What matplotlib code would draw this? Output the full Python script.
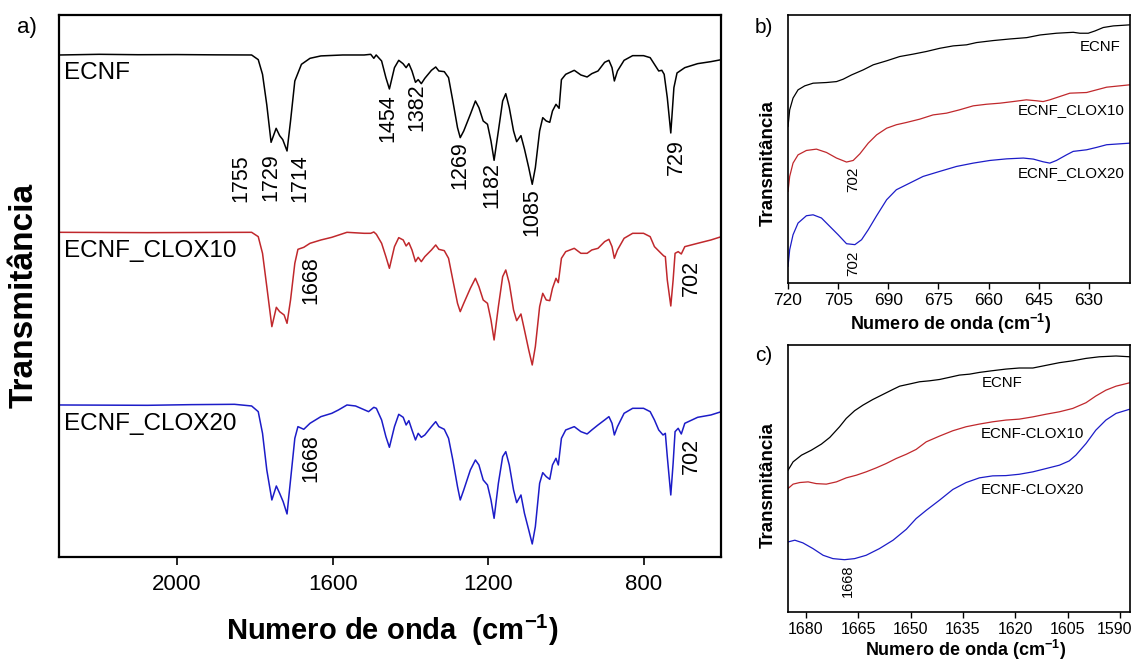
import matplotlib.pyplot as plt
import matplotlib.transforms as mtransforms

plt.rcParams['font.family'] = ['Liberation Sans', 'DejaVu Sans']
plt.rcParams['mathtext.fontset'] = 'custom'
plt.rcParams['mathtext.rm'] = 'Liberation Sans'
plt.rcParams['mathtext.bf'] = 'Liberation Sans:bold'

# ---- panel a) full FTIR spectra (wavenumber in cm-1, transmittance a.u.) ----
ecnf_wn = [2300, 2200, 2100, 2000, 1900, 1808, 1791, 1780, 1769, 1758, 1745, 1736, 1728, 1717, 1708,
           1697, 1680, 1658, 1630, 1574, 1519, 1502, 1494, 1488, 1474, 1463, 1454, 1441, 1430, 1419,
           1411, 1404, 1396, 1387, 1380, 1372, 1363, 1346, 1335, 1327, 1313, 1302, 1291, 1279, 1272,
           1263, 1246, 1233, 1224, 1213, 1202, 1193, 1185, 1174, 1163, 1155, 1146, 1135, 1127, 1116,
           1107, 1096, 1087, 1079, 1068, 1060, 1051, 1042, 1035, 1026, 1018, 1012, 1001, 979, 962,
           946, 934, 918, 901, 890, 882, 876, 868, 851, 829, 801, 784, 773, 762, 754, 748, 740, 731,
           723, 715, 695, 662, 628, 601]
ecnf_t = [99.5, 100, 99.7, 99.8, 99.6, 99.5, 96, 85, 62, 34, 44.5, 39, 36, 27.5, 50,
          80, 92.5, 97, 98.8, 99.5, 99.5, 100, 97, 99.5, 95, 82.5, 74, 90, 95.5, 93,
          90, 93, 87.5, 79, 81, 78, 82, 88, 90.5, 87.5, 87, 82.5, 65, 45, 37.5,
          42.5, 55, 65, 60, 50, 47.5, 35, 20.5, 42.5, 65, 70.5, 60, 42.5, 34.5, 39,
          29, 15, 2.5, 15, 42.5, 52.5, 50, 49, 57.5, 62.5, 59.5, 81, 85, 88, 84.5,
          83, 85.5, 87.5, 94, 95.5, 90, 80, 87.5, 95.5, 99, 99, 97.5, 92.5, 87.5, 88, 85, 67.5, 41,
          75, 86, 90, 93, 94.5, 96]

clox10_wn = [2300, 2075, 1808, 1791, 1780, 1769, 1756, 1744.5, 1736, 1724.5, 1717, 1708, 1697, 1689,
             1674, 1658, 1630, 1602, 1563, 1519, 1502, 1494, 1487.5, 1474, 1463, 1454, 1441, 1430,
             1418.5, 1411, 1404, 1396, 1387, 1380, 1372, 1363, 1346, 1335, 1327, 1313, 1302, 1291,
             1279, 1272, 1263, 1246, 1233, 1224, 1213, 1202, 1193, 1185, 1174, 1163, 1155, 1146,
             1135, 1127, 1116, 1107, 1096, 1087, 1079, 1068, 1060, 1051, 1042, 1035, 1026, 1020,
             1012, 1001, 979, 962, 946, 934, 918, 901, 890, 882, 876, 868, 851, 829, 801, 784, 773,
             756, 749, 745, 740, 731, 725, 720, 712, 704, 695, 662, 628, 601]
clox10_t = [100, 99.75, 100, 96.75, 84.25, 59.25, 29.25, 43.75, 40.5, 38, 31.75, 49.25, 76.75, 87.25,
            88.75, 91.75, 94.25, 96.25, 100, 99.25, 99.25, 100.25, 98.5, 91.75, 81.75, 73, 89.25, 96,
            94.25, 89.75, 92.25, 86.75, 78, 81.25, 78, 81.75, 86.75, 90.5, 87.25, 86.25, 80.5, 64.25,
            46.75, 40.5, 46.75, 58, 65.5, 59.25, 49.25, 46.75, 34.25, 19.25, 44.25, 66.75, 71.75, 61.75,
            41.75, 33.75, 38.75, 26.75, 11.75, 0.5, 14.25, 44.25, 54.25, 49.25, 48.75, 58, 65.5, 62.25,
            80.5, 85.5, 88, 84.25, 84.25, 86.75, 88, 93, 94.75, 89.25, 80.5, 86.75, 95.5, 99.25, 99.25,
            96.75, 89.25, 84.25, 82.25, 81.75, 64.25, 44.75, 64.25, 84.25, 85.5, 83.75, 89.25, 91.75,
            94.25, 96.75]

clox20_wn = [2300, 2075, 1964, 1852, 1808, 1791, 1780, 1769, 1756, 1744.5, 1736, 1727, 1717, 1708,
             1697, 1689, 1674, 1658, 1630, 1602, 1585, 1563, 1541, 1507.5, 1494, 1487.5, 1474, 1463,
             1454, 1441, 1430, 1418.5, 1411, 1404, 1396, 1387, 1380, 1372, 1363, 1346, 1335, 1327,
             1313, 1302, 1291, 1279, 1272, 1263, 1246, 1233, 1224, 1213, 1202, 1193, 1185, 1174,
             1163, 1155, 1146, 1135, 1127, 1116, 1107, 1096, 1087, 1079, 1068, 1060, 1051, 1042,
             1035, 1026, 1020, 1012, 1001, 979, 962, 946, 934, 918, 901, 890, 882, 876, 868, 851,
             829, 801, 784, 773, 762, 751, 745, 740, 731, 725, 720, 712, 704, 695, 662, 628, 601]
clox20_t = [100, 99.75, 100.25, 100.5, 99.25, 95, 78.75, 51.25, 28.75, 39.25, 33.75, 27.5, 18.25, 43.75,
            75, 83.75, 81.75, 86.25, 91.25, 93.75, 96.25, 100, 99.25, 95, 98.25, 97.5, 88.75, 76.25,
            68.25, 83.75, 93, 90.75, 85, 88.25, 81.25, 73.75, 78.75, 75.75, 77.5, 83.75, 87.5, 83.75,
            81.75, 75, 58.75, 38.75, 28.75, 36.25, 51.25, 58.75, 55, 43.75, 40, 28.75, 15, 41.25,
            61.25, 65, 55, 36.25, 26.75, 32.5, 18.75, 6.25, -4.25, 8.75, 41.25, 49.25, 46.25, 44.25,
            55, 60, 55, 75, 81.25, 83.75, 80, 78.25, 81.25, 85, 88.75, 91.25, 86.25, 77.5, 83.75, 93.75,
            97.5, 97.5, 95, 88.75, 81.25, 77.5, 78.75, 61.25, 32.5, 56.25, 80, 82.5, 78.25, 86.25,
            90.75, 92.5, 95]

# peak labels in panel a: (text, wavenumber, height)
peaks_a = [('1755', 1835, 284), ('1729', 1758, 285), ('1714', 1684, 284), ('1454', 1459, 329),
           ('1382', 1383, 337), ('1269', 1272, 294), ('1182', 1190, 279), ('1085', 1087, 259),
           ('729', 717, 300), ('1668', 1655, 208), ('702', 679, 209), ('1668', 1655, 74),
           ('702', 679, 76)]

# ---- panel b) 720-618 cm-1 ----
b_ecnf_wn = [720, 719.5, 718.5, 717, 715, 712.5, 708.5, 705.5, 703.5, 701, 697.5, 694.5, 690.5, 686.6,
             682.6, 678.6, 674.6, 670.6, 666.6, 663.6, 658.6, 653.6, 648.6, 644.6, 639.7, 634.7, 632.7,
             630.2, 628.2, 625.7, 622.7, 617.7]
b_ecnf_t = [58.75, 65, 69.4, 72.5, 74, 75, 75.25, 75.6, 76.5, 78.1, 80, 81.9, 83.4, 85, 85.9, 86.9,
            88.1, 89, 89.4, 90.25, 91, 91.6, 92.1, 93.1, 93.75, 94.1, 93.75, 93.75, 94.6, 95.9, 96.5, 96.9]
b_clox10_wn = [720, 719.5, 718.5, 717, 714.5, 711.5, 708.5, 705.5, 702.5, 700.5, 698.5, 696, 693.5,
               690.5, 687.6, 684.6, 680.6, 676.6, 672.6, 668.7, 664.6, 660.6, 656.6, 652.7, 648.7,
               645.7, 643.7, 641.7, 638.7, 635.7, 630.7, 627.7, 624.7, 617.7]
b_clox10_t = [34.4, 40, 45, 48.1, 49.75, 50.25, 49, 46.9, 45.4, 46, 48.5, 52.5, 55.6, 58.1, 59.4,
              60.25, 61.5, 63.1, 63.75, 65, 66.5, 67.1, 67.5, 68.1, 68.75, 68.4, 68.1, 68.75, 70,
              71.25, 71.5, 72.5, 73.5, 74.4]
b_clox20_wn = [720, 719.5, 718.5, 717, 714.5, 712.5, 710, 707.5, 705, 702.5, 700, 698, 696, 693.5,
               690.5, 687.6, 683.6, 679.6, 674.6, 669.6, 664.6, 659.6, 654.6, 649.6, 646.6, 643.7,
               641.7, 639.7, 636.7, 634.7, 630.7, 627.7, 624.7, 617.7]
b_clox20_t = [6.25, 12.5, 18.1, 22.5, 25.25, 25.6, 24.4, 21.25, 18.1, 14.75, 14.4, 16.25, 20, 25.25,
              31.25, 35, 37.5, 40, 41.9, 43.75, 45, 46, 46.6, 46.9, 46.5, 45.5, 45, 46, 48.1, 49.4,
              50, 50.9, 51.9, 52.5]

# ---- panel c) 1685-1587 cm-1 ----
c_ecnf_wn = [1685.05, 1683.6, 1681.2, 1678.4, 1675.5, 1673.1, 1670.3, 1668.4, 1666, 1663.6, 1660.8,
             1657.9, 1655, 1653.1, 1650.3, 1647.4, 1644.6, 1641.7, 1638.9, 1636, 1633.1, 1630.3,
             1626.5, 1622.7, 1618.9, 1615, 1611.2, 1607.4, 1603.6, 1599.8, 1596, 1591.2, 1587.2]
c_ecnf_t = [53.1, 56.25, 58.75, 60.6, 62.9, 65.4, 69.4, 72.5, 75.4, 77.5, 79.6, 81.5, 83.4, 84.6,
            85.4, 86.25, 86.6, 87.1, 87.9, 88.75, 89.1, 89.75, 90.4, 91, 91.4, 91.4, 92.4, 93.4,
            94.1, 95, 95.6, 95.9, 95.6]
c_clox10_wn = [1685.05, 1683.6, 1681.7, 1679.3, 1677, 1674.1, 1671.2, 1668.4, 1665.5, 1662.7, 1659.8,
               1657, 1654.1, 1651.2, 1648.4, 1645.5, 1641.7, 1637.9, 1634.1, 1630.3, 1626.5, 1622.7,
               1618.9, 1615, 1611.2, 1607.4, 1603.6, 1599.8, 1597, 1594.1, 1591.2, 1587.2]
c_clox10_t = [46.25, 47.9, 48.5, 48.75, 48.1, 47.9, 48.75, 50.25, 51.25, 52.5, 54, 55.6, 57.5, 59.1,
              60.9, 63.75, 65.9, 67.9, 69.4, 70.4, 71.25, 71.9, 72.25, 73.1, 74.1, 75, 76.25, 78.4,
              80.9, 83.1, 84.6, 85.9]
c_clox20_wn = [1685.05, 1683.1, 1680.8, 1677.9, 1675, 1672.2, 1668.9, 1666, 1662.7, 1658.9, 1655,
               1651.2, 1648.4, 1645.5, 1641.7, 1637.9, 1634.1, 1630.3, 1626.5, 1622.7, 1618.9, 1615,
               1611.2, 1607.4, 1604.6, 1602.7, 1599.8, 1597, 1594.1, 1591.2, 1587.2]
c_clox20_t = [26.25, 26.9, 25.9, 23.75, 21.25, 20, 19.6, 20, 21.25, 23.75, 26.9, 31, 35, 38.1, 41.9,
              45.9, 48.5, 50.25, 51, 51.1, 51.6, 52.5, 53.75, 55, 56.6, 58.75, 63.1, 68.1, 71.9,
              74.4, 76]

names_a = ['ECNF', 'ECNF_CLOX10', 'ECNF_CLOX20']
names_c = ['ECNF', 'ECNF-CLOX10', 'ECNF-CLOX20']
colors = ['black', '#c0282c', '#1c1cc8']
offsets_a = [277, 143.5, 14]

fig = plt.figure(figsize=(11.34, 6.6), dpi=100)

# panel a
ax = fig.add_axes([0.0520, 0.1561, 0.5838, 0.8212])
series_a = [(ecnf_wn, ecnf_t), (clox10_wn, clox10_t), (clox20_wn, clox20_t)]
for (wn, t), c, off, name in zip(series_a, colors, offsets_a, names_a):
    ax.plot(wn, [v + off for v in t], color=c, lw=1.1)
    ax.text(2290, off + 86, name, fontsize=17.5, ha='left', va='center')
for lab, x, y in peaks_a:
    ax.text(x, y, lab, rotation=90, fontsize=15.5, ha='center', va='center')
ax.set_xlim(2303, 602)
ax.set_ylim(0, 406.5)
ax.set_xticks([2000, 1600, 1200, 800])
ax.set_yticks([])
ax.tick_params(axis='x', direction='out', length=6, width=1.2, labelsize=16, pad=6)
for s in ax.spines.values():
    s.set_linewidth(1.6)

# panel b
axb = fig.add_axes([0.6949, 0.5712, 0.3016, 0.4061])
series_b = [(b_ecnf_wn, b_ecnf_t), (b_clox10_wn, b_clox10_t), (b_clox20_wn, b_clox20_t)]
for (wn, t), c in zip(series_b, colors):
    axb.plot(wn, t, color=c, lw=0.9)
axb.text(620.7, 88.75, names_a[0], fontsize=10.8, ha='right', va='center')
axb.text(619.2, 65, names_a[1], fontsize=10.8, ha='right', va='center')
axb.text(619.2, 41.25, names_a[2], fontsize=10.8, ha='right', va='center')
axb.text(700.5, 38.75, '702', rotation=90, fontsize=11, ha='center', va='center')
axb.text(700.5, 7.25, '702', rotation=90, fontsize=11, ha='center', va='center')
axb.set_xlim(720, 617.7)
axb.set_ylim(0, 100.6)
axb.set_xticks([720, 705, 690, 675, 660, 645, 630])
axb.set_yticks([])
axb.tick_params(axis='x', direction='out', length=4, width=1, labelsize=12.5, pad=3)
for s in axb.spines.values():
    s.set_linewidth(1.2)

# panel c
axc = fig.add_axes([0.6949, 0.0727, 0.3016, 0.4045])
series_c = [(c_ecnf_wn, c_ecnf_t), (c_clox10_wn, c_clox10_t), (c_clox20_wn, c_clox20_t)]
for (wn, t), c in zip(series_c, colors):
    axc.plot(wn, t, color=c, lw=0.9)
axc.text(1629.7, 85.75, names_c[0], fontsize=10.8, ha='left', va='center')
axc.text(1630, 66.6, names_c[1], fontsize=10.8, ha='left', va='center')
axc.text(1630, 45.6, names_c[2], fontsize=10.8, ha='left', va='center')
axc.text(1667.9, 11.6, '1668', rotation=90, fontsize=10.5, ha='center', va='center')
axc.set_xlim(1685.05, 1587.2)
axc.set_ylim(0, 100)
axc.set_xticks([1680, 1665, 1650, 1635, 1620, 1605, 1590])
axc.set_yticks([])
axc.tick_params(axis='x', direction='out', length=4, width=1, labelsize=11.5, pad=3)
for s in axc.spines.values():
    s.set_linewidth(1.2)
# last label sits against the figure edge, nudge it left a little
last = axc.xaxis.get_major_ticks()[-1].label1
last.set_transform(last.get_transform() + mtransforms.ScaledTranslation(-0.06, 0, fig.dpi_scale_trans))

# panel letters and axis titles
fig.text(0.0238, 0.9576, 'a)', fontsize=16, ha='center', va='center')
fig.text(0.6737, 0.959, 'b)', fontsize=15, ha='center', va='center')
fig.text(0.6737, 0.4621, 'c)', fontsize=15, ha='center', va='center')
fig.text(0.0212, 0.553, 'Transmitância', fontsize=24, fontweight='bold', rotation=90,
         ha='center', va='center')
fig.text(0.3457, 0.0455, r'Numero de onda  (cm$^{\mathbf{-1}}$)', fontsize=21, fontweight='bold',
         ha='center', va='center')
fig.text(0.6772, 0.753, 'Transmitância', fontsize=13.5, fontweight='bold', rotation=90,
         ha='center', va='center')
fig.text(0.8386, 0.509, r'Numero de onda (cm$^{\mathbf{-1}}$)', fontsize=13, fontweight='bold',
         ha='center', va='center')
fig.text(0.6772, 0.265, 'Transmitância', fontsize=13.5, fontweight='bold', rotation=90,
         ha='center', va='center')
fig.text(0.851, 0.015, r'Numero de onda (cm$^{\mathbf{-1}}$)', fontsize=13, fontweight='bold',
         ha='center', va='center')

fig.savefig('out.png', dpi=100)
